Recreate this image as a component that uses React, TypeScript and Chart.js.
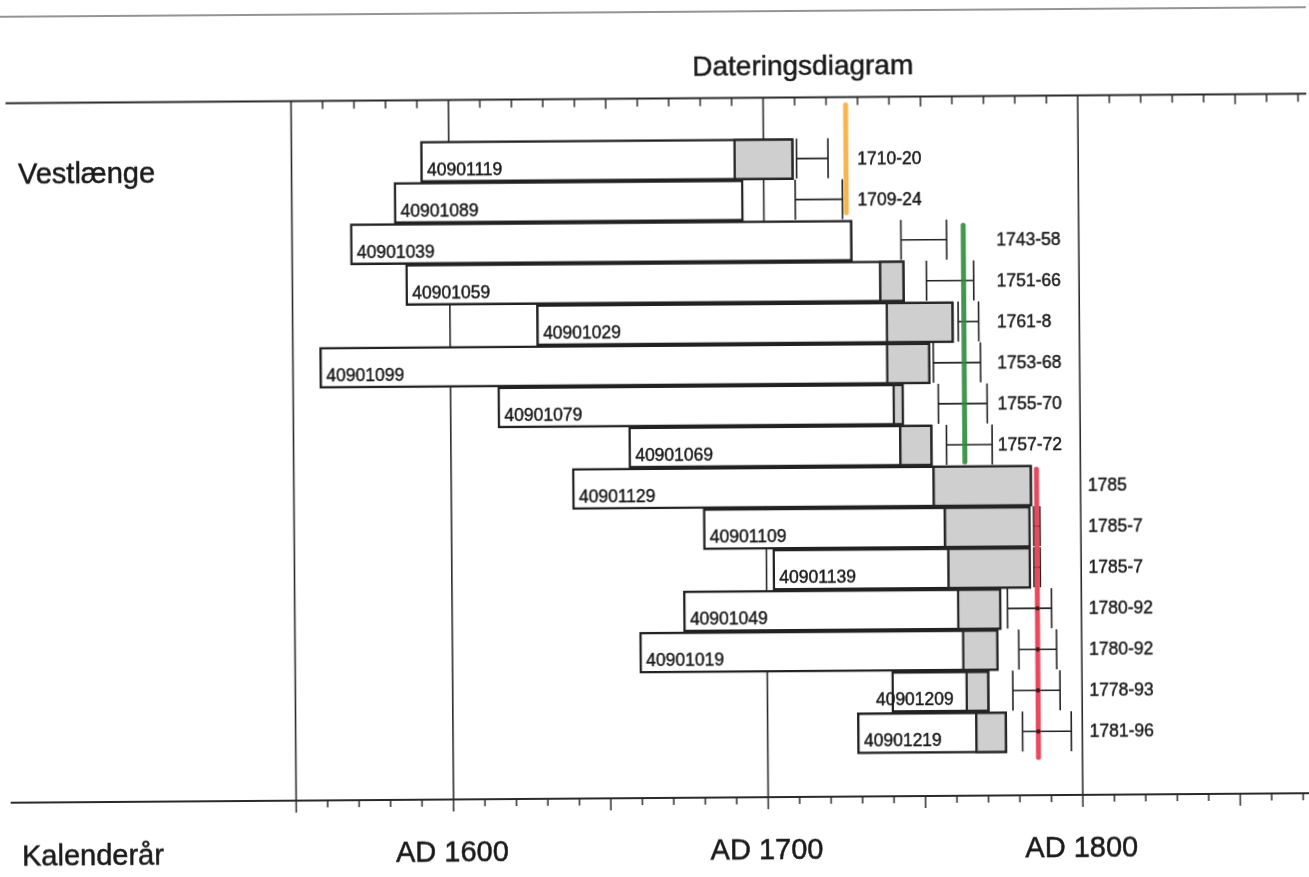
import React, { useEffect, useRef } from 'react';
import { Chart, registerables } from 'chart.js';

Chart.register(...registerables);

// ---- Data (years AD) ----
const samples = [
  '40901119', '40901089', '40901039', '40901059', '40901029',
  '40901099', '40901079', '40901069', '40901129', '40901109',
  '40901139', '40901049', '40901019', '40901209', '40901219',
];
const startYears = [1591, 1582.5, 1568.5, 1586, 1627.5, 1558.5, 1615, 1656.5, 1638.5, 1680, 1702, 1673.5, 1659.5, 1739.5, 1728.5];
const sapwoodStart = [1690.5, null, null, 1736.5, 1738.5, 1738.5, 1740.5, 1742.5, 1753, 1756.5, 1757.5, 1760.5, 1762, 1763, 1766];
const endYears = [1709.5, 1693.5, 1728, 1744.5, 1760, 1752.5, 1744, 1753, 1784.5, 1784, 1784, 1774.5, 1773.5, 1770.5, 1776];
const fellingLow = [1710.5, 1710, 1743.5, 1751.5, 1761.5, 1753.5, 1755, 1757.5, null, 1785, 1785, 1776.5, 1780, 1778, 1781];
const fellingHigh = [1720.5, 1725, 1758, 1766.5, 1768, 1768.5, 1770.5, 1772, null, 1787, 1787, 1790.5, 1792, 1793, 1796.5];
const dateLabels = ['1710-20', '1709-24', '1743-58', '1751-66', '1761-8', '1753-68', '1755-70', '1757-72', '1785', '1785-7', '1785-7', '1780-92', '1780-92', '1778-93', '1781-96'];

// phases (building phases marked by coloured lines)
const phaseYears = [1726.2, 1763.3, 1786];
const phaseRowFrom = [-1.31, 1.64, 7.6];
const phaseRowTo = [1.32, 7.41, 14.62];
const phaseColors = ['#f5ae3c', '#2f8b3b', '#e8344b'];
const phaseFirstRow = [0, 2, 8];
const phaseLastRow = [1, 7, 14];
const phaseLabelYears = [1729.8, 1773.8, 1802.3];

const gridYears = [1550, 1600, 1700, 1800];
const axisLabelYears = [1600, 1700, 1800];
const axisLabels = ['AD 1600', 'AD 1700', 'AD 1800'];
const title = 'Dateringsdiagram';
const rowGroupLabel = 'Vestlænge';
const axisTitle = 'Kalenderår';

const FONT = '"Liberation Sans", Arial, Helvetica, sans-serif';

const dendroPlugin = {
  id: 'dendro',
  beforeDatasetsDraw(chart: any) {
    const { ctx, chartArea: a, scales } = chart;
    const x = scales.x;
    const line = (x1: number, y1: number, x2: number, y2: number) => {
      ctx.beginPath();
      ctx.moveTo(x1, y1);
      ctx.lineTo(x2, y2);
      ctx.stroke();
    };
    ctx.save();
    // page edge line of the scan
    ctx.strokeStyle = '#707070';
    ctx.lineWidth = 1.6;
    line(0, 12, chart.width, 12);
    // grid lines
    ctx.strokeStyle = '#2a2a2a';
    ctx.lineWidth = 1.6;
    gridYears.forEach((yr) => {
      const px = x.getPixelForValue(yr);
      line(px, a.top, px, a.bottom);
    });
    // axis lines
    ctx.lineWidth = 2.2;
    line(8, a.top, a.right, a.top);
    line(8, a.bottom, a.right, a.bottom);
    // ticks
    ctx.lineWidth = 1.5;
    for (let yr = 1550; yr <= 1870; yr += 10) {
      const px = x.getPixelForValue(yr);
      const big = yr % 50 === 0;
      if (!gridYears.includes(yr)) line(px, a.top, px, a.top + (big ? 10 : 8));
      line(px, a.bottom, px, a.bottom + (big ? 12 : 7));
    }
    ctx.restore();
  },
  afterDatasetsDraw(chart: any) {
    const { ctx, scales } = chart;
    const x = scales.x;
    const y = scales.y;
    const line = (x1: number, y1: number, x2: number, y2: number) => {
      ctx.beginPath();
      ctx.moveTo(x1, y1);
      ctx.lineTo(x2, y2);
      ctx.stroke();
    };
    const text = (t: string, tx: number, ty: number) => {
      ctx.fillText(t, tx, ty);
      ctx.strokeText(t, tx, ty);
    };
    ctx.save();
    // error bars of felling dates
    ctx.strokeStyle = '#222';
    ctx.lineWidth = 1.6;
    samples.forEach((_, i) => {
      const lo = fellingLow[i];
      const hi = fellingHigh[i];
      if (lo == null || hi == null) return;
      const yc = y.getPixelForValue(i) - 0.5;
      const x1 = x.getPixelForValue(lo);
      const x2 = x.getPixelForValue(hi);
      line(x1, yc, x2, yc);
      line(x1, yc - 20, x1, yc + 20);
      line(x2, yc - 20, x2, yc + 20);
    });
    // phase lines
    ctx.globalAlpha = 0.9;
    ctx.lineCap = 'round';
    ctx.lineWidth = 5;
    phaseYears.forEach((yr, p) => {
      const px = x.getPixelForValue(yr);
      ctx.strokeStyle = phaseColors[p];
      line(px, y.getPixelForValue(phaseRowFrom[p]), px, y.getPixelForValue(phaseRowTo[p]));
    });
    ctx.globalAlpha = 1;
    // dots where the red phase line crosses the ranges
    ctx.fillStyle = '#3b1a1a';
    for (let i = 11; i <= 14; i++) {
      ctx.beginPath();
      ctx.arc(x.getPixelForValue(phaseYears[2]), y.getPixelForValue(i) - 0.5, 2.2, 0, Math.PI * 2);
      ctx.fill();
    }
    // sample labels
    ctx.fillStyle = '#1a1a1a';
    ctx.strokeStyle = '#1a1a1a';
    ctx.lineWidth = 0.45;
    ctx.lineCap = 'butt';
    ctx.font = `17.5px ${FONT}`;
    ctx.textBaseline = 'alphabetic';
    ctx.textAlign = 'left';
    samples.forEach((s, i) => {
      const w = ctx.measureText(s).width;
      let lx = x.getPixelForValue(startYears[i]) + 6.5;
      const g = sapwoodStart[i];
      if (g != null) lx = Math.min(lx, x.getPixelForValue(g) - w - 12);
      text(s, lx, y.getPixelForValue(i) + 13.5);
    });
    // date labels
    phaseYears.forEach((_, p) => {
      const lx = x.getPixelForValue(phaseLabelYears[p]);
      for (let i = phaseFirstRow[p]; i <= phaseLastRow[p]; i++) {
        text(dateLabels[i], lx, y.getPixelForValue(i) + 5.7);
      }
    });
    // big texts
    ctx.lineWidth = 0.5;
    ctx.font = `28px ${FONT}`;
    ctx.textAlign = 'center';
    text(title, 805.5, 76);
    ctx.font = `29px ${FONT}`;
    axisLabels.forEach((t, k) => {
      text(t, x.getPixelForValue(axisLabelYears[k]) - 1.5, 860);
    });
    ctx.textAlign = 'left';
    text(rowGroupLabel, 20, 179);
    text(axisTitle, 19, 861);
    ctx.restore();
  },
};

export default function App() {
  const canvasRef = useRef<HTMLCanvasElement | null>(null);

  useEffect(() => {
    const canvas = canvasRef.current;
    if (!canvas) return;
    const rows = samples.map((_, i) => i);
    const chart = new Chart(canvas, {
      type: 'bar',
      data: {
        datasets: [
          {
            label: 'Prøve',
            data: rows.map((i) => ({ x: [startYears[i], endYears[i]], y: i })) as any,
            backgroundColor: '#ffffff',
            borderColor: '#222222',
            borderWidth: 2.5,
            borderSkipped: false,
            barThickness: 41.05,
            grouped: false,
            order: 2,
          } as any,
          {
            label: 'Splintved',
            data: rows
              .filter((i) => sapwoodStart[i] != null)
              .map((i) => ({ x: [sapwoodStart[i], endYears[i]], y: i })) as any,
            backgroundColor: '#cfcfcf',
            borderColor: '#262626',
            borderWidth: 2.5,
            borderSkipped: false,
            barThickness: 41.05,
            grouped: false,
            order: 1,
          } as any,
        ],
      },
      options: {
        indexAxis: 'y',
        responsive: false,
        animation: false,
        devicePixelRatio: 1,
        layout: { padding: { left: 293.5, right: 0, top: 98.5, bottom: 79 } },
        scales: {
          x: { type: 'linear', min: 1550, max: 1872.7, display: false, offset: false },
          y: { type: 'linear', min: -1.5, max: 15.54, reverse: true, display: false, offset: false },
        },
        plugins: {
          legend: { display: false },
          tooltip: { enabled: false },
          title: { display: false },
        },
      },
      plugins: [dendroPlugin],
    } as any);
    return () => chart.destroy();
  }, []);

  return (
    <div style={{ position: 'fixed', left: 0, top: 0, width: 1309, height: 877, overflow: 'hidden', background: '#fff' }}>
      <canvas
        ref={canvasRef}
        width={1309}
        height={877}
        style={{ display: 'block', width: 1309, height: 877, transform: 'rotate(-0.42deg)', transformOrigin: '50% 50%' }}
      />
    </div>
  );
}
